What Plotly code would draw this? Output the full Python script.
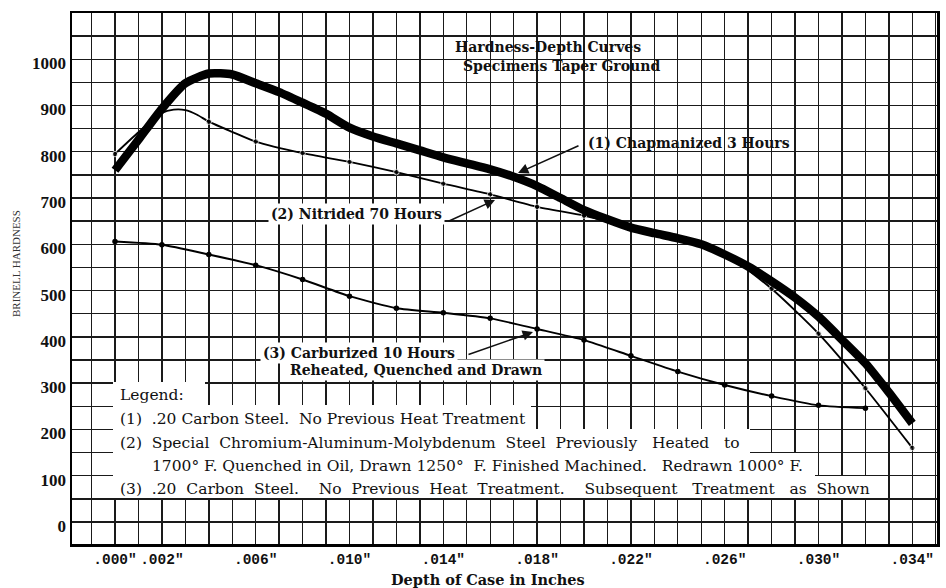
import plotly.graph_objects as go

# ---------------- data ----------------
# depth of case in inches
chap_x = [0.000, 0.001, 0.002, 0.003, 0.004, 0.005, 0.006, 0.007, 0.008, 0.009,
          0.010, 0.011, 0.012, 0.013, 0.014, 0.015, 0.016, 0.017, 0.018, 0.019,
          0.020, 0.021, 0.022, 0.023, 0.024, 0.025, 0.026, 0.027, 0.028, 0.029,
          0.030, 0.031, 0.032, 0.033, 0.034]
chap_y = [760, 826, 893, 948, 969, 967, 948, 929, 906, 882,
          852, 833, 818, 803, 788, 775, 762, 746, 726, 700,
          674, 654, 636, 624, 613, 600, 578, 552, 520, 485,
          444, 394, 343, 280, 213]

nitr_x = [0.000, 0.001, 0.002, 0.0025, 0.003, 0.0035, 0.004, 0.005, 0.006, 0.008,
          0.010, 0.012, 0.014, 0.016, 0.018, 0.020, 0.022, 0.024, 0.026, 0.028,
          0.030, 0.032, 0.034]
nitr_y = [795, 842, 884, 891, 890, 880, 865, 843, 822, 797,
          778, 756, 731, 708, 681, 662, 636, 612, 580, 504,
          407, 289, 160]
nitr_dot = [1, 0, 0, 0, 0, 0, 1, 0, 1, 1,
            1, 1, 1, 1, 1, 1, 1, 1, 1, 1,
            1, 1, 1]

carb_x = [0.000, 0.002, 0.004, 0.006, 0.008, 0.010, 0.012, 0.014, 0.016, 0.018,
          0.020, 0.022, 0.024, 0.026, 0.028, 0.030, 0.032]
carb_y = [606, 599, 578, 555, 524, 488, 462, 452, 440, 417,
          393, 359, 325, 296, 272, 252, 246]

x_tick_vals = [0.000, 0.002, 0.006, 0.010, 0.014, 0.018, 0.022, 0.026, 0.030, 0.034]
x_tick_text = ['.000"', '.002"', '.006"', '.010"', '.014"', '.018"', '.022"', '.026"', '.030"', '.034"']
y_tick_vals = [0, 100, 200, 300, 400, 500, 600, 700, 800, 900, 1000]
y_tick_text = ["0", "100", "200", "300", "400", "500", "600", "700", "800", "900", "1000"]

NB = "\u00a0"
legend_lines = [
    "Legend:",
    f"(1){NB*2}.20 Carbon Steel.{NB*2}No Previous Heat Treatment",
    f"(2){NB*2}Special{NB*2}Chromium-Aluminum-Molybdenum{NB*2}Steel{NB*2}Previously{NB*3}Heated{NB*3}to",
    f"1700\u00b0 F. Quenched in Oil, Drawn 1250\u00b0{NB*2}F. Finished Machined.{NB*3}Redrawn 1000\u00b0 F.",
    f"(3){NB*2}.20{NB*2}Carbon{NB*2}Steel.{NB*4}No{NB*2}Previous{NB*2}Heat{NB*2}Treatment.{NB*4}Subsequent{NB*3}Treatment{NB*3}as{NB*2}Shown",
]

# ---------------- layout helpers (pixel -> axis units) ----------------
W, H = 946, 588
L_PX, R_PX, T_PX, B_PX = 72, 937, 13, 544


def dx(px):
    return (px - 115) / 23.45 / 1000.0


def dy(py):
    return (522 - py) * 50 / 23.14


INK = "#111111"
SERIF = "DejaVu Serif"

fig = go.Figure()

fig.add_trace(go.Scatter(
    x=carb_x, y=carb_y, mode="lines+markers",
    line=dict(color="#000", width=1.9, shape="spline", smoothing=0.6),
    marker=dict(color="#000", size=5.5), hoverinfo="skip", showlegend=False))

fig.add_trace(go.Scatter(
    x=nitr_x, y=nitr_y, mode="lines+markers",
    line=dict(color="#000", width=1.9, shape="spline", smoothing=0.6),
    marker=dict(color="#000", size=[5.5 * d for d in nitr_dot]),
    hoverinfo="skip", showlegend=False))

fig.add_trace(go.Scatter(
    x=chap_x, y=chap_y, mode="lines",
    line=dict(color="#000000", width=8.5, shape="spline", smoothing=0.6),
    hoverinfo="skip", showlegend=False))

grid = dict(gridcolor="#1a1a1a", gridwidth=1.4)

fig.update_xaxes(
    range=[dx(L_PX), dx(R_PX)], tickvals=x_tick_vals, ticktext=x_tick_text,
    showgrid=True, **grid, zeroline=False, ticks="", tickangle=0, automargin=False,
    tickfont=dict(family="Liberation Mono", size=14.5, color=INK, weight="bold"),
    minor=dict(dtick=0.001, tick0=0, showgrid=True, **grid),
    showline=True, linecolor="#000", linewidth=2.5, mirror=True, fixedrange=True)

fig.update_yaxes(
    range=[dy(B_PX), dy(T_PX)], tickvals=y_tick_vals, ticktext=y_tick_text,
    showgrid=True, **grid, zeroline=False, ticks="", automargin=False,
    tickfont=dict(family="Liberation Serif", size=17, color=INK, weight="bold"),
    ticklabelshift=4,
    minor=dict(dtick=50, tick0=0, showgrid=True, **grid),
    showline=True, linecolor="#000", linewidth=2.5, mirror=True, fixedrange=True)

# white patches behind the legend text (pasted label look)
legend_rows = [(113, 205, 382, 407), (113, 531, 405, 431), (113, 750, 429, 455),
               (113, 815, 453, 478), (113, 875, 476, 498)]
shapes = []
for x0, x1, y0, y1 in legend_rows:
    shapes.append(dict(type="rect", xref="x", yref="y", layer="between",
                       x0=dx(x0), x1=dx(x1), y0=dy(y1), y1=dy(y0),
                       fillcolor="white", line=dict(width=0)))
fig.update_layout(shapes=shapes)

ann = []


def text(px, py, s, size=13.5, bold=False, anchor="left", bg=None, family=SERIF):
    d = dict(x=dx(px), y=dy(py), xref="x", yref="y", text=s, showarrow=False,
             xanchor=anchor, yanchor="middle",
             font=dict(family=family, size=size, color=INK,
                       weight="bold" if bold else "normal"))
    if bg:
        d.update(bgcolor=bg, borderpad=2)
    ann.append(d)


def arrow(tail, tip):
    ann.append(dict(x=dx(tip[0]), y=dy(tip[1]), ax=dx(tail[0]), ay=dy(tail[1]),
                    xref="x", yref="y", axref="x", ayref="y", text="",
                    showarrow=True, arrowhead=2, arrowsize=1.3, arrowwidth=1.6,
                    arrowcolor=INK))


text(548, 47, "Hardness-Depth Curves", size=14, bold=True, anchor="center")
text(561, 66, "Specimens Taper Ground", size=14, bold=True, anchor="center")

text(586, 143, "(1) Chapmanized 3 Hours", size=14, bold=True)
arrow((580, 145), (518, 173))

text(268, 214, "(2) Nitrided 70 Hours", size=14, bold=True, bg="white")
arrow((447, 222), (495, 200))

text(260, 353, "(3) Carburized 10 Hours", size=14, bold=True, bg="white")
text(287, 370, "Reheated, Quenched and Drawn", size=14, bold=True, bg="white")
arrow((467, 355), (533, 332))

legend_pos = [(118, 395), (118, 419), (118, 443), (150, 466), (118, 489)]
for (px, py), s in zip(legend_pos, legend_lines):
    text(px, py, s, size=15.5)

# axis titles
ann.append(dict(x=(488 - L_PX) / (R_PX - L_PX), y=(B_PX - 579) / (B_PX - T_PX),
                xref="paper", yref="paper", text="Depth of Case in Inches",
                showarrow=False, xanchor="center", yanchor="middle",
                font=dict(family=SERIF, size=14.5, color=INK, weight="bold")))
ann.append(dict(x=(16 - L_PX) / (R_PX - L_PX), y=(B_PX - 264) / (B_PX - T_PX),
                xref="paper", yref="paper", text="BRINELL HARDNESS", textangle=-90,
                showarrow=False, xanchor="center", yanchor="middle",
                font=dict(family="Liberation Serif", size=11, color="#333")))

fig.update_layout(
    annotations=ann,
    width=W, height=H,
    margin=dict(l=L_PX, r=W - R_PX, t=T_PX, b=H - B_PX, pad=0, autoexpand=False),
    paper_bgcolor="white", plot_bgcolor="white",
    showlegend=False, hovermode=False,
)

fig.write_html("out.html",
               config={"displayModeBar": False, "staticPlot": True},
               post_script="document.body.style.margin='0';document.body.style.overflow='hidden';")
